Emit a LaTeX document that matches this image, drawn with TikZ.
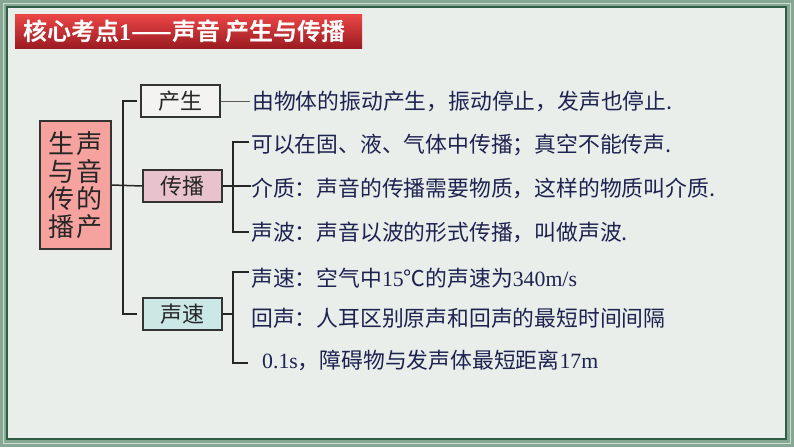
\documentclass[tikz,border=0pt]{standalone}
\usepackage{fontspec}
\setmainfont{Liberation Serif}
\newfontfamily\cjk[BoldFont={Noto Sans CJK SC Bold}]{Noto Sans CJK SC}
\newfontfamily\zahl{Liberation Serif}
\usetikzlibrary{positioning}

\definecolor{rahmengruen}{HTML}{86A893}
\definecolor{dunkelgruen}{HTML}{2F5E47}
\definecolor{grund}{HTML}{E9EEEA}
\definecolor{wurzelfarbe}{HTML}{F6A39F}
\definecolor{farbeA}{HTML}{F3F3F1}
\definecolor{farbeB}{HTML}{E8C2CC}
\definecolor{farbeC}{HTML}{CBE7E6}
\definecolor{textblau}{HTML}{1E2250}
\definecolor{boxlinie}{HTML}{333333}

\tikzset{
	kasten/.style={draw=boxlinie, line width=1.2pt, minimum width=79pt,
		minimum height=32pt, inner sep=0pt, text=black!85,
		font=\cjk\fontsize{22}{24}\selectfont},
	zeile/.style={anchor=west, inner sep=0pt, text=textblau,
		font=\cjk\fontsize{21.8}{24}\selectfont},
	klammer/.style={draw=black!85, line width=1.5pt},
	fein/.style={draw=black!65, line width=0.8pt}
}

\begin{document}
\begin{tikzpicture}[x=1pt, y=-1pt]
	\useasboundingbox (0,0) rectangle (794,447);
	% Rahmen
	\fill[rahmengruen] (0,0) rectangle (794,447);
	\draw[white!60!rahmengruen, line width=1pt] (3.5,3.5) rectangle (790.5,443.5);
	\filldraw[fill=grund, draw=dunkelgruen, line width=1.5pt] (7,7) rectangle
	(786,439);

	% Titelbalken
	\shade[top color={rgb,255:red,236;green,70;blue,70},
		bottom color={rgb,255:red,155;green,28;blue,34}] (15,14) rectangle (362,48);
	\node[anchor=west, inner sep=0pt, text=white,
		font=\cjk\bfseries\fontsize{24}{26}\selectfont] (titel) at (23,31)
		{核心考点{\zahl\bfseries 1}——声音 产生与传播};

	% Knoten
	\node[kasten, fill=wurzelfarbe, minimum width=71pt, minimum height=128pt,
		align=center, font=\cjk\fontsize{26}{27.5}\selectfont] (wurzel)
		at (75.5,185) {生\hspace{2pt}声\\与\hspace{2pt}音\\传\hspace{2pt}的\\播\hspace{2pt}产};
	\node[kasten, fill=farbeA] (entstehung) at (180.5,101) {产生};
	\node[kasten, fill=farbeB] (ausbreitung) at (182.5,186) {传播};
	\node[kasten, fill=farbeC] (schall) at (182.5,314) {声速};

	% Texte
	\node[zeile] (tA) at (252,101) {由物体的振动产生，振动停止，发声也停止.};
	\node[zeile] (tBa) at (251,145) {可以在固、液、气体中传播；真空不能传声.};
	\node[zeile] (tBb) at (251,188) {介质：声音的传播需要物质，这样的物质叫介质.};
	\node[zeile] (tBc) at (251,232) {声波：声音以波的形式传播，叫做声波.};
	\node[zeile] (tCa) at (251,278) {声速：空气中{\zahl 15}℃的声速为{\zahl 340m/s}};
	\node[zeile] (tCb) at (251,318) {回声：人耳区别原声和回声的最短时间间隔};
	\node[zeile] (tCc) at (262,360) {{\zahl 0.1s}，障碍物与发声体最短距离{\zahl 17m}};

	% Klammern
	\coordinate (kA) at (123,186);
	\coordinate (kB) at (233,188);
	\coordinate (kC) at (233,314);
	\draw[klammer] ([xshift=-3]entstehung.west) -| (kA) |- ([xshift=-5]schall.west);
	\draw[klammer] (wurzel.east) -- (ausbreitung.west);
	\draw[fein] (entstehung.east) -- ([xshift=-2]tA.west);
	\draw[klammer] ([xshift=-2,yshift=3]tBa.west) -| (kB) |- ([xshift=-2]tBc.west);
	\draw[klammer] (ausbreitung.east) -- (ausbreitung.east -| tBb.west);
	\draw[klammer] ([xshift=-2,yshift=6]tCa.west) -| (kC) |-
	([xshift=-14,yshift=-3]tCc.west);
	\draw[klammer] (schall.east) -- (kC);
\end{tikzpicture}
\end{document}
